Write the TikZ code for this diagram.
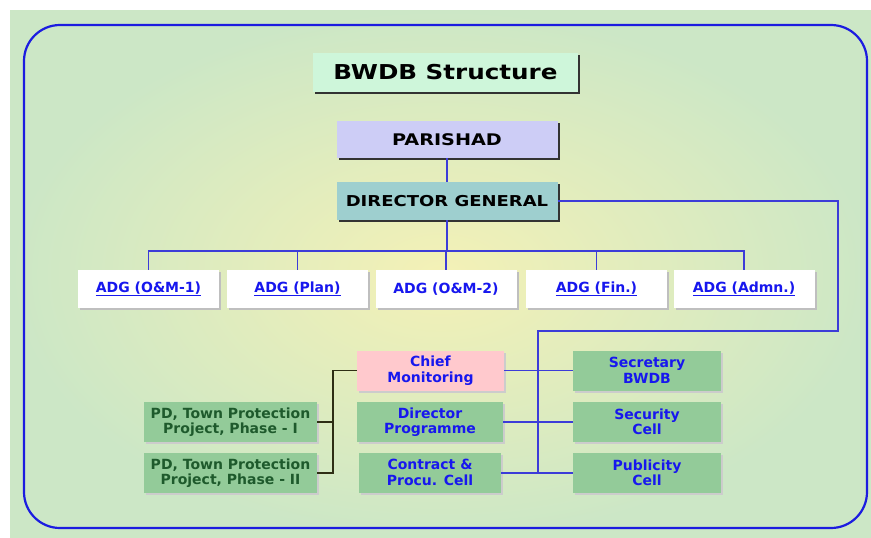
\documentclass[tikz,border=0pt]{standalone}
\usepackage{fontspec}
\setmainfont{DejaVu Sans}
\newfontfamily\widefont[FakeStretch=1.2]{DejaVu Sans}
\usetikzlibrary{shadows}
\definecolor{bgyel}{HTML}{F4F1B6}
\definecolor{bggrn}{HTML}{CCE7C6}
\definecolor{frame}{HTML}{1C1CE0}
\definecolor{wire}{HTML}{3C3CD8}
\definecolor{darkwire}{HTML}{2E2E14}
\definecolor{mint}{HTML}{CEF6DA}
\definecolor{lav}{HTML}{CDCDF6}
\definecolor{teal}{HTML}{9ECFCF}
\definecolor{pinkbox}{HTML}{FFC9CD}
\definecolor{grnbox}{HTML}{93CB99}
\definecolor{txtblue}{HTML}{1717EE}
\definecolor{txtgrn}{HTML}{1E5A2C}

\begin{document}
\begin{tikzpicture}[x=1pt,y=-1pt,
  topbox/.style ={inner sep=0pt, text=black,
                  drop shadow={shadow xshift=2pt,shadow yshift=-2pt,fill=black!80,opacity=1}},
  adgbox/.style ={fill=white, inner sep=0pt, minimum width=141pt, minimum height=38pt,
                  text=txtblue, font=\bfseries\fontsize{14}{16}\selectfont,
                  drop shadow={shadow xshift=2pt,shadow yshift=-2pt,fill=black!25,opacity=1}},
  cellbox/.style={fill=grnbox, inner sep=0pt, minimum height=40pt, align=center,
                  text=txtblue, font=\bfseries\fontsize{14}{15.5}\selectfont,
                  drop shadow={shadow xshift=2pt,shadow yshift=-2pt,fill=black!20,opacity=1}},
  pdbox/.style  ={cellbox, minimum width=173pt, text=txtgrn, font=\bfseries\fontsize{14}{14.5}\selectfont},
  wire/.style   ={draw=wire, line width=1.4pt},
  dkwire/.style ={draw=darkwire, line width=1.4pt}]

  \useasboundingbox (0,0) rectangle (871,538);

  % ---------------- background and frame ----------------
  \shade[inner color=bgyel, outer color=bggrn] (10,10) rectangle (871,538);
  \draw[frame, line width=2.2pt, rounded corners=36pt] (24,25) rectangle (867,528);

  % ---------------- top of the tree ----------------
  \node[topbox, fill=mint, minimum width=265pt, minimum height=39pt,
        font=\widefont\bfseries\fontsize{20.5}{24}\selectfont] (title) at (445.5,72.5) {BWDB Structure};
  \node[topbox, fill=lav, minimum width=221pt, minimum height=37pt,
        font=\widefont\bfseries\fontsize{16}{19}\selectfont] (parishad) at (447,139.5) {PARISHAD};
  \node[topbox, fill=teal, minimum width=221pt, minimum height=38pt,
        font=\widefont\bfseries\fontsize{15}{18}\selectfont] (dg) at (447,201) {DIRECTOR GENERAL};
  \draw[wire] (parishad.south) -- (dg.north);

  % ---------------- ADG row ----------------
  \node[adgbox] (adg1) at (148.5,289) {\underline{ADG (O\&M-1)}};
  \node[adgbox] (adg2) at (297.5,289) {\underline{ADG (Plan)}};
  \node[adgbox] (adg3) at (446,289)   {ADG (O\&M-2)};
  \node[adgbox] (adg4) at (596.5,289) {\underline{ADG (Fin.)}};
  \node[adgbox] (adg5) at (744,289)   {\underline{ADG (Admn.)}};
  \coordinate (bus) at (447,251);
  \draw[wire] (dg.south) -- (dg.south |- bus);
  \draw[wire] (adg1.north) |- (bus) -| (adg5.north);
  \foreach \n in {adg2,adg3,adg4}
    \draw[wire] (\n.north) -- (\n.north |- bus);

  % ---------------- lower cells ----------------
  \node[cellbox, fill=pinkbox, minimum width=147pt] (chief) at (430.5,370.5) {Chief\\Monitoring};
  \node[cellbox, minimum width=146pt] (dirprog)  at (430,422)   {Director\\Programme};
  \node[cellbox, minimum width=142pt] (contract) at (430,472.5) {Contract \&\\Procu. Cell};
  \node[pdbox] (pd1) at (230.5,422) {PD, Town Protection\\Project, Phase - I};
  \node[pdbox] (pd2) at (230.5,473) {PD, Town Protection\\Project, Phase - II};
  \node[cellbox, minimum width=148pt] (secy)      at (647,370.5) {Secretary\\BWDB};
  \node[cellbox, minimum width=148pt] (security)  at (647,422)   {Security\\Cell};
  \node[cellbox, minimum width=148pt] (publicity) at (647,473)   {Publicity\\Cell};

  % DG feeder round the right side
  \coordinate (rturn) at (838,331);
  \coordinate (cturn) at (538,331);
  \draw[wire] (dg.east) -| (rturn) -- (cturn) -- (cturn |- publicity.west);
  \draw[wire] (chief.east) -- (secy.west);
  \draw[wire] (dirprog.east) -- (security.west);
  \draw[wire] (contract.east |- publicity.west) -- (publicity.west);

  % PD projects under Chief Monitoring
  \coordinate (dkturn) at (333,370.5);
  \draw[dkwire] (chief.west) -- (dkturn) |- (pd2.east);
  \draw[dkwire] (pd1.east) -- (pd1.east -| dkturn);
\end{tikzpicture}
\end{document}
